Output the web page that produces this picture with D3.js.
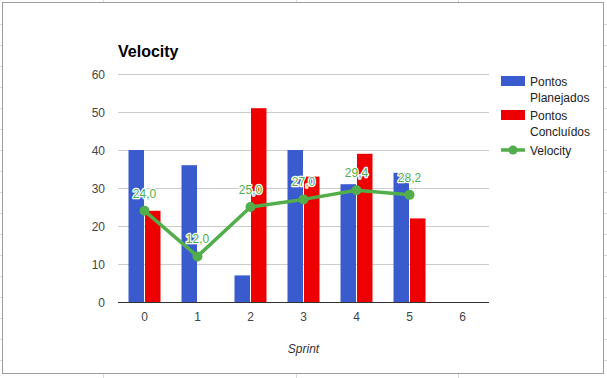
<!DOCTYPE html>
<html>
<head>
<meta charset="utf-8">
<script src="https://cdn.jsdelivr.net/npm/d3@7"></script>
<style>
  html, body { margin: 0; padding: 0; background: #fff; }
  svg { display: block; font-family: "Liberation Sans", Arial, sans-serif; }
</style>
</head>
<body>
<svg id="chart" width="607" height="378"></svg>
<script>
const categories = ["0", "1", "2", "3", "4", "5", "6"];
const planejados = [40, 36, 7, 40, 31, 34, null];
const concluidos = [24, null, 51, 33, 39, 22, null];
const velocity = [24.0, 12.0, 25.0, 27.0, 29.4, 28.2, null];
const yTicks = [0, 10, 20, 30, 40, 50, 60];
const seriesNames = ["Pontos Planejados", "Pontos Concluídos", "Velocity"];
const colors = ["#3a5bcd", "#ee0000", "#52ad4b"];

(function () {
const svg = d3.select("#chart");
const W = 607, H = 378;

// spreadsheet grid visible outside the chart frame
const sheet = svg.append("g").attr("stroke", "#d9d9d9").attr("stroke-width", 1);
[103.5, 296.5, 458.5].forEach(xx => {
  sheet.append("line").attr("x1", xx).attr("x2", xx).attr("y1", 0).attr("y2", 2);
  sheet.append("line").attr("x1", xx).attr("x2", xx).attr("y1", 374).attr("y2", H);
});
for (let yy = 24.5; yy < H; yy += 21) {
  sheet.append("line").attr("x1", 0).attr("x2", 2).attr("y1", yy).attr("y2", yy);
  sheet.append("line").attr("x1", 604).attr("x2", W).attr("y1", yy).attr("y2", yy);
}
svg.append("rect").attr("x", 2.5).attr("y", 2.5).attr("width", 601).attr("height", 371)
  .attr("fill", "#fff").attr("stroke", "#9e9e9e").attr("stroke-width", 1);

const pLeft = 118, pRight = 489, pTop = 74, pBottom = 302;
const x = d3.scaleBand().domain(categories).range([pLeft, pRight]).paddingInner(0).paddingOuter(0);
const y = d3.scaleLinear().domain([0, 60]).range([pBottom, pTop]);
const inner = d3.scaleBand().domain([0, 1]).range([-16, 16]).paddingInner(0.06);

// gridlines
svg.append("g").selectAll("line").data(yTicks.filter(d => d > 0)).join("line")
  .attr("x1", pLeft).attr("x2", pRight)
  .attr("y1", d => Math.round(y(d)) + 0.5).attr("y2", d => Math.round(y(d)) + 0.5)
  .attr("stroke", "#cccccc").attr("stroke-width", 1);

// y labels
svg.append("g").selectAll("text").data(yTicks).join("text")
  .attr("x", 105).attr("y", d => y(d) + 4.5)
  .attr("text-anchor", "end").attr("font-size", 12).attr("fill", "#444")
  .text(d => d);

// bars
const barData = [];
categories.forEach((c, i) => {
  [planejados[i], concluidos[i]].forEach((v, s) => {
    if (v != null) barData.push({ c, s, v });
  });
});
svg.append("g").selectAll("rect").data(barData).join("rect")
  .attr("x", d => x(d.c) + x.bandwidth() / 2 + inner(d.s))
  .attr("width", inner.bandwidth())
  .attr("y", d => y(d.v))
  .attr("height", d => y(0) - y(d.v))
  .attr("fill", d => colors[d.s]);

// baseline
svg.append("line").attr("x1", pLeft).attr("x2", pRight)
  .attr("y1", pBottom + 0.5).attr("y2", pBottom + 0.5)
  .attr("stroke", "#333").attr("stroke-width", 1.2);

// x labels
svg.append("g").selectAll("text").data(categories).join("text")
  .attr("x", d => x(d) + x.bandwidth() / 2).attr("y", 321)
  .attr("text-anchor", "middle").attr("font-size", 12).attr("fill", "#444")
  .text(d => d);

svg.append("text").attr("x", (pLeft + pRight) / 2).attr("y", 353)
  .attr("text-anchor", "middle").attr("font-size", 12).attr("font-style", "italic")
  .attr("fill", "#333").text("Sprint");

// velocity line
const vData = categories.map((c, i) => ({ c, v: velocity[i] })).filter(d => d.v != null);
const line = d3.line().x(d => x(d.c) + x.bandwidth() / 2).y(d => y(d.v));
svg.append("path").datum(vData).attr("d", line)
  .attr("fill", "none").attr("stroke", colors[2]).attr("stroke-width", 3.5)
  .attr("stroke-linejoin", "round");
svg.append("g").selectAll("circle").data(vData).join("circle")
  .attr("cx", d => x(d.c) + x.bandwidth() / 2).attr("cy", d => y(d.v))
  .attr("r", 5).attr("fill", colors[2]);

const fmt = d => d.toFixed(1).replace(".", ",");
svg.append("g").selectAll("text").data(vData).join("text")
  .attr("x", d => x(d.c) + x.bandwidth() / 2).attr("y", d => y(d.v) - 13)
  .attr("text-anchor", "middle").attr("font-size", 12)
  .attr("fill", colors[2]).attr("stroke", "#fff").attr("stroke-width", 2.5)
  .attr("paint-order", "stroke").attr("stroke-linejoin", "round")
  .text(d => fmt(d.v));

// title
svg.append("text").attr("x", 118).attr("y", 57).attr("font-size", 16)
  .attr("font-weight", "bold").attr("fill", "#000").text("Velocity");

// legend
const legend = svg.append("g").attr("font-size", 12).attr("fill", "#222");
const legendLines = [["Pontos", "Planejados"], ["Pontos", "Concluídos"], ["Velocity"]];
const legendY = [81, 115, 150];
legendLines.forEach((lines, i) => {
  const cy = legendY[i];
  if (i < 2) {
    legend.append("rect").attr("x", 501).attr("y", cy - 5).attr("width", 24).attr("height", 10)
      .attr("fill", colors[i]);
  } else {
    legend.append("line").attr("x1", 501).attr("x2", 525).attr("y1", cy).attr("y2", cy)
      .attr("stroke", colors[i]).attr("stroke-width", 3.5);
    legend.append("circle").attr("cx", 513).attr("cy", cy).attr("r", 4.5).attr("fill", colors[i]);
  }
  lines.forEach((t, j) => {
    legend.append("text").attr("x", 530).attr("y", cy + 4.5 + j * 16.5).text(t);
  });
});
})();
</script>
</body>
</html>
